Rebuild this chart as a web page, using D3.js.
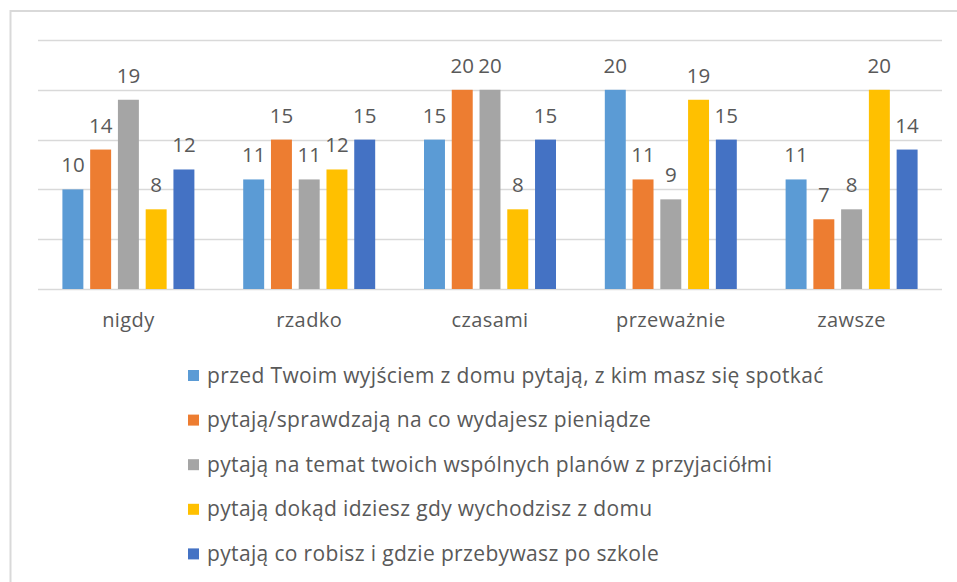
<!DOCTYPE html>
<html>
<head>
<meta charset="utf-8">
<script src="https://cdn.jsdelivr.net/npm/d3@7"></script>
<style>
  body { margin: 0; background: #fff; }
  svg text { font-family: "Open Sans", Lato, sans-serif; fill: #595959; }
</style>
</head>
<body>
<svg id="myGraph" width="957" height="582"></svg>
<script>
// kategorie (oś X)
var categories = ["nigdy", "rzadko", "czasami", "przeważnie", "zawsze"];
// nazwy serii (legenda)
var seriesNames = [
  "przed Twoim wyjściem z domu pytają, z kim masz się spotkać",
  "pytają/sprawdzają na co wydajesz pieniądze",
  "pytają na temat twoich wspólnych planów z przyjaciółmi",
  "pytają dokąd idziesz gdy wychodzisz z domu",
  "pytają co robisz i gdzie przebywasz po szkole"
];
// wartości serii, po jednej liście na serię
var s1 = [10, 11, 15, 20, 11];
var s2 = [14, 15, 20, 11, 7];
var s3 = [19, 11, 20, 9, 8];
var s4 = [8, 12, 8, 19, 20];
var s5 = [12, 15, 15, 15, 14];
var seriesValues = [s1, s2, s3, s4, s5];
var yTicks = [0, 5, 10, 15, 20, 25];
var colors = ["#5B9BD5", "#ED7D31", "#A5A5A5", "#FFC000", "#4472C4"];

var svg = d3.select("#myGraph");

// ramka wykresu
svg.append("rect")
  .attr("x", 10.5).attr("y", 11)
  .attr("width", 960).attr("height", 600)
  .attr("fill", "none")
  .attr("stroke", "#d9d9d9")
  .attr("stroke-width", 2);

var plotLeft = 38, plotRight = 942, plotTop = 40, plotBottom = 289;

var x0 = d3.scaleBand().domain(categories).range([plotLeft, plotRight])
  .paddingInner(0.27).paddingOuter(0.135);
var x1 = d3.scaleBand().domain(d3.range(seriesNames.length)).range([0, x0.bandwidth()])
  .paddingInner(0.245);
var y = d3.scaleLinear().domain([0, 25]).range([plotBottom, plotTop]);

// linie siatki
svg.append("g").selectAll("line").data(yTicks).enter()
  .append("line")
  .attr("x1", plotLeft).attr("x2", plotRight)
  .attr("y1", function(d){ return Math.round(y(d)) + 0.5; })
  .attr("y2", function(d){ return Math.round(y(d)) + 0.5; })
  .attr("stroke", "#d9d9d9")
  .attr("stroke-width", 1.3);

// słupki
var groups = svg.append("g").selectAll("g").data(categories).enter()
  .append("g")
  .attr("transform", function(d){ return "translate(" + x0(d) + ",0)"; });

groups.selectAll("rect")
  .data(function(d, ci){ return seriesValues.map(function(s, si){ return {si: si, v: s[ci]}; }); })
  .enter().append("rect")
  .attr("x", function(d){ return x1(d.si); })
  .attr("width", x1.bandwidth())
  .attr("y", function(d){ return y(d.v); })
  .attr("height", function(d){ return plotBottom - y(d.v); })
  .attr("fill", function(d){ return colors[d.si]; });

// etykiety wartości
groups.selectAll("text")
  .data(function(d, ci){ return seriesValues.map(function(s, si){ return {si: si, v: s[ci]}; }); })
  .enter().append("text")
  .attr("x", function(d){ return x1(d.si) + x1.bandwidth() / 2; })
  .attr("y", function(d){ return y(d.v) - 17; })
  .attr("text-anchor", "middle")
  .style("font-size", "20.5px")
  .text(function(d){ return d.v; });

// etykiety kategorii
svg.append("g").selectAll("text").data(categories).enter()
  .append("text")
  .attr("x", function(d){ return x0(d) + x0.bandwidth() / 2; })
  .attr("y", 327)
  .attr("text-anchor", "middle")
  .style("font-size", "20px")
  .style("letter-spacing", "0.4px")
  .text(function(d){ return d; });

// legenda
var legend = svg.append("g").selectAll("g").data(seriesNames).enter()
  .append("g")
  .attr("transform", function(d, i){ return "translate(188," + (375.5 + i * 44.6) + ")"; });

legend.append("rect")
  .attr("x", 0).attr("y", -5.5)
  .attr("width", 11).attr("height", 11)
  .attr("fill", function(d, i){ return colors[i]; });

legend.append("text")
  .attr("x", 19).attr("y", 7)
  .style("font-size", "21px")
  .style("letter-spacing", "0.35px")
  .text(function(d){ return d; });
</script>
</body>
</html>
